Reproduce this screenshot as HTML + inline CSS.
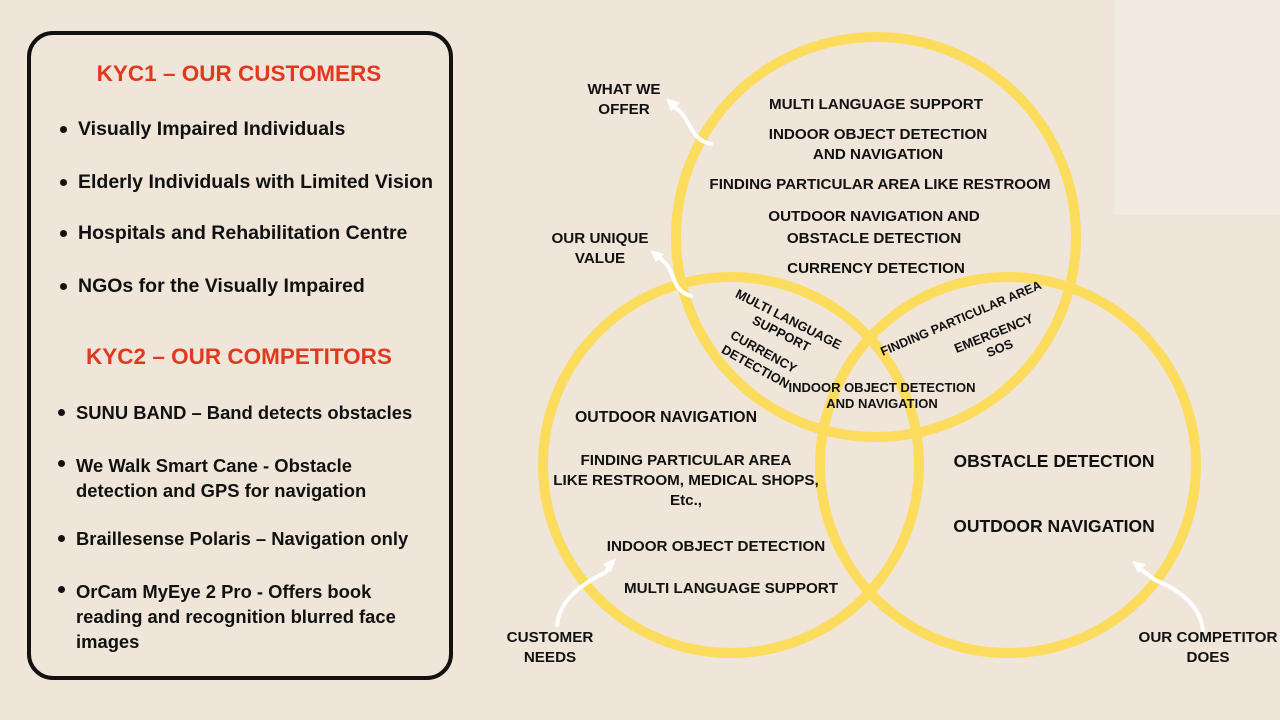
<!DOCTYPE html>
<html><head><meta charset="utf-8"><style>
body{margin:0;width:1280px;height:720px;background:#efe5d9;position:relative;overflow:hidden;font-family:"Liberation Sans",sans-serif;font-weight:bold;color:#111}
.box{position:absolute;left:27px;top:31px;width:418px;height:641px;border:4px solid #111;border-radius:26px}
.t{position:absolute;white-space:nowrap}
.h{color:#e0391f;font-size:22.5px;text-align:center;width:418px;left:30px}
.li{font-size:19.5px;left:58px}
.li:before{content:"";position:absolute;left:2px;top:8px;width:7px;height:7px;border-radius:50%;background:#111}
.li span{margin-left:20px;display:inline-block}
.k{font-size:18.4px;left:56px}
.k:before{top:7px}
.c{font-size:15.2px;text-align:center;transform:translateX(-50%);line-height:20px}
.s{font-size:13px;line-height:16px;text-align:center}
</style></head><body>
<div style="position:absolute;left:1115px;top:0;width:165px;height:215px;background:#f2ebe2"></div>
<div class="box"></div>
<div class="t h" style="top:61px">KYC1 – OUR CUSTOMERS</div>
<div class="t li" style="top:118px"><span>Visually Impaired Individuals</span></div>
<div class="t li" style="top:171px"><span>Elderly Individuals with Limited Vision</span></div>
<div class="t li" style="top:222px"><span>Hospitals and Rehabilitation Centre</span></div>
<div class="t li" style="top:275px"><span>NGOs for the Visually Impaired</span></div>
<div class="t h" style="top:344px">KYC2 – OUR COMPETITORS</div>
<div class="t li k" style="top:402px"><span>SUNU BAND – Band detects obstacles</span></div>
<div class="t li k" style="top:453px;line-height:25px"><span>We Walk Smart Cane - Obstacle<br>detection and GPS for navigation</span></div>
<div class="t li k" style="top:528px"><span>Braillesense Polaris – Navigation only</span></div>
<div class="t li k" style="top:579px;line-height:25px"><span>OrCam MyEye 2 Pro - Offers book<br>reading and recognition blurred face<br>images</span></div>

<svg style="position:absolute;left:0;top:0" width="1280" height="720">
<g fill="none" stroke="#fcdc5c" stroke-width="10">
<circle cx="876" cy="237" r="200"/>
<circle cx="731" cy="465" r="188"/>
<circle cx="1008" cy="465" r="188"/>
</g>
<g fill="none" stroke="#fff" stroke-width="4" stroke-linecap="round">
<path d="M711 144 C690 140 690 118 678 110 L670 103"/>
<path d="M691 296 C670 290 676 270 662 260 L655 254"/>
<path d="M557 625 C560 600 580 585 606 572 L612 563"/>
<path d="M1203 630 C1200 605 1180 590 1155 580 L1138 567"/>
</g>
<g fill="#fff">
<polygon points="666,98 680,103 671,111"/>
<polygon points="650,250 664,254 656,262"/>
<polygon points="616,558 611,572 603,564"/>
<polygon points="1132,561 1146,564 1138,573"/>
</g>
</svg>

<div class="t c" style="left:624px;top:80px">WHAT WE<br>OFFER</div>
<div class="t c" style="left:600px;top:229px">OUR UNIQUE<br>VALUE</div>
<div class="t c" style="left:550px;top:628px">CUSTOMER<br>NEEDS</div>
<div class="t c" style="left:1208px;top:628px">OUR COMPETITOR<br>DOES</div>

<div class="t c" style="left:876px;top:95px">MULTI LANGUAGE SUPPORT</div>
<div class="t c" style="left:878px;top:125px">INDOOR OBJECT DETECTION<br>AND NAVIGATION</div>
<div class="t c" style="left:880px;top:175px">FINDING PARTICULAR AREA LIKE RESTROOM</div>
<div class="t c" style="left:874px;top:206px;line-height:22px">OUTDOOR NAVIGATION AND<br>OBSTACLE DETECTION</div>
<div class="t c" style="left:876px;top:259px">CURRENCY DETECTION</div>

<div class="t s" style="left:740px;top:286px;transform:rotate(27deg);transform-origin:0 0">MULTI LANGUAGE<br>SUPPORT</div>
<div class="t s" style="left:735px;top:326px;transform:rotate(29deg);transform-origin:0 0;line-height:17px">CURRENCY<br>DETECTION</div>
<div class="t s" style="left:878px;top:345px;transform:rotate(-23deg);transform-origin:0 0;font-size:12.5px">FINDING PARTICULAR AREA</div>
<div class="t s" style="left:952px;top:342px;transform:rotate(-22deg);transform-origin:0 0">EMERGENCY<br>SOS</div>
<div class="t c s" style="left:882px;top:380px">INDOOR OBJECT DETECTION<br>AND NAVIGATION</div>

<div class="t c" style="left:666px;top:408px;font-size:15.8px">OUTDOOR NAVIGATION</div>
<div class="t c" style="left:686px;top:451px">FINDING PARTICULAR AREA<br>LIKE RESTROOM, MEDICAL SHOPS,<br>Etc.,</div>
<div class="t c" style="left:716px;top:537px">INDOOR OBJECT DETECTION</div>
<div class="t c" style="left:731px;top:579px">MULTI LANGUAGE SUPPORT</div>

<div class="t c" style="left:1054px;top:451px;font-size:17.5px">OBSTACLE DETECTION</div>
<div class="t c" style="left:1054px;top:516px;font-size:17.5px">OUTDOOR NAVIGATION</div>
</body></html>
